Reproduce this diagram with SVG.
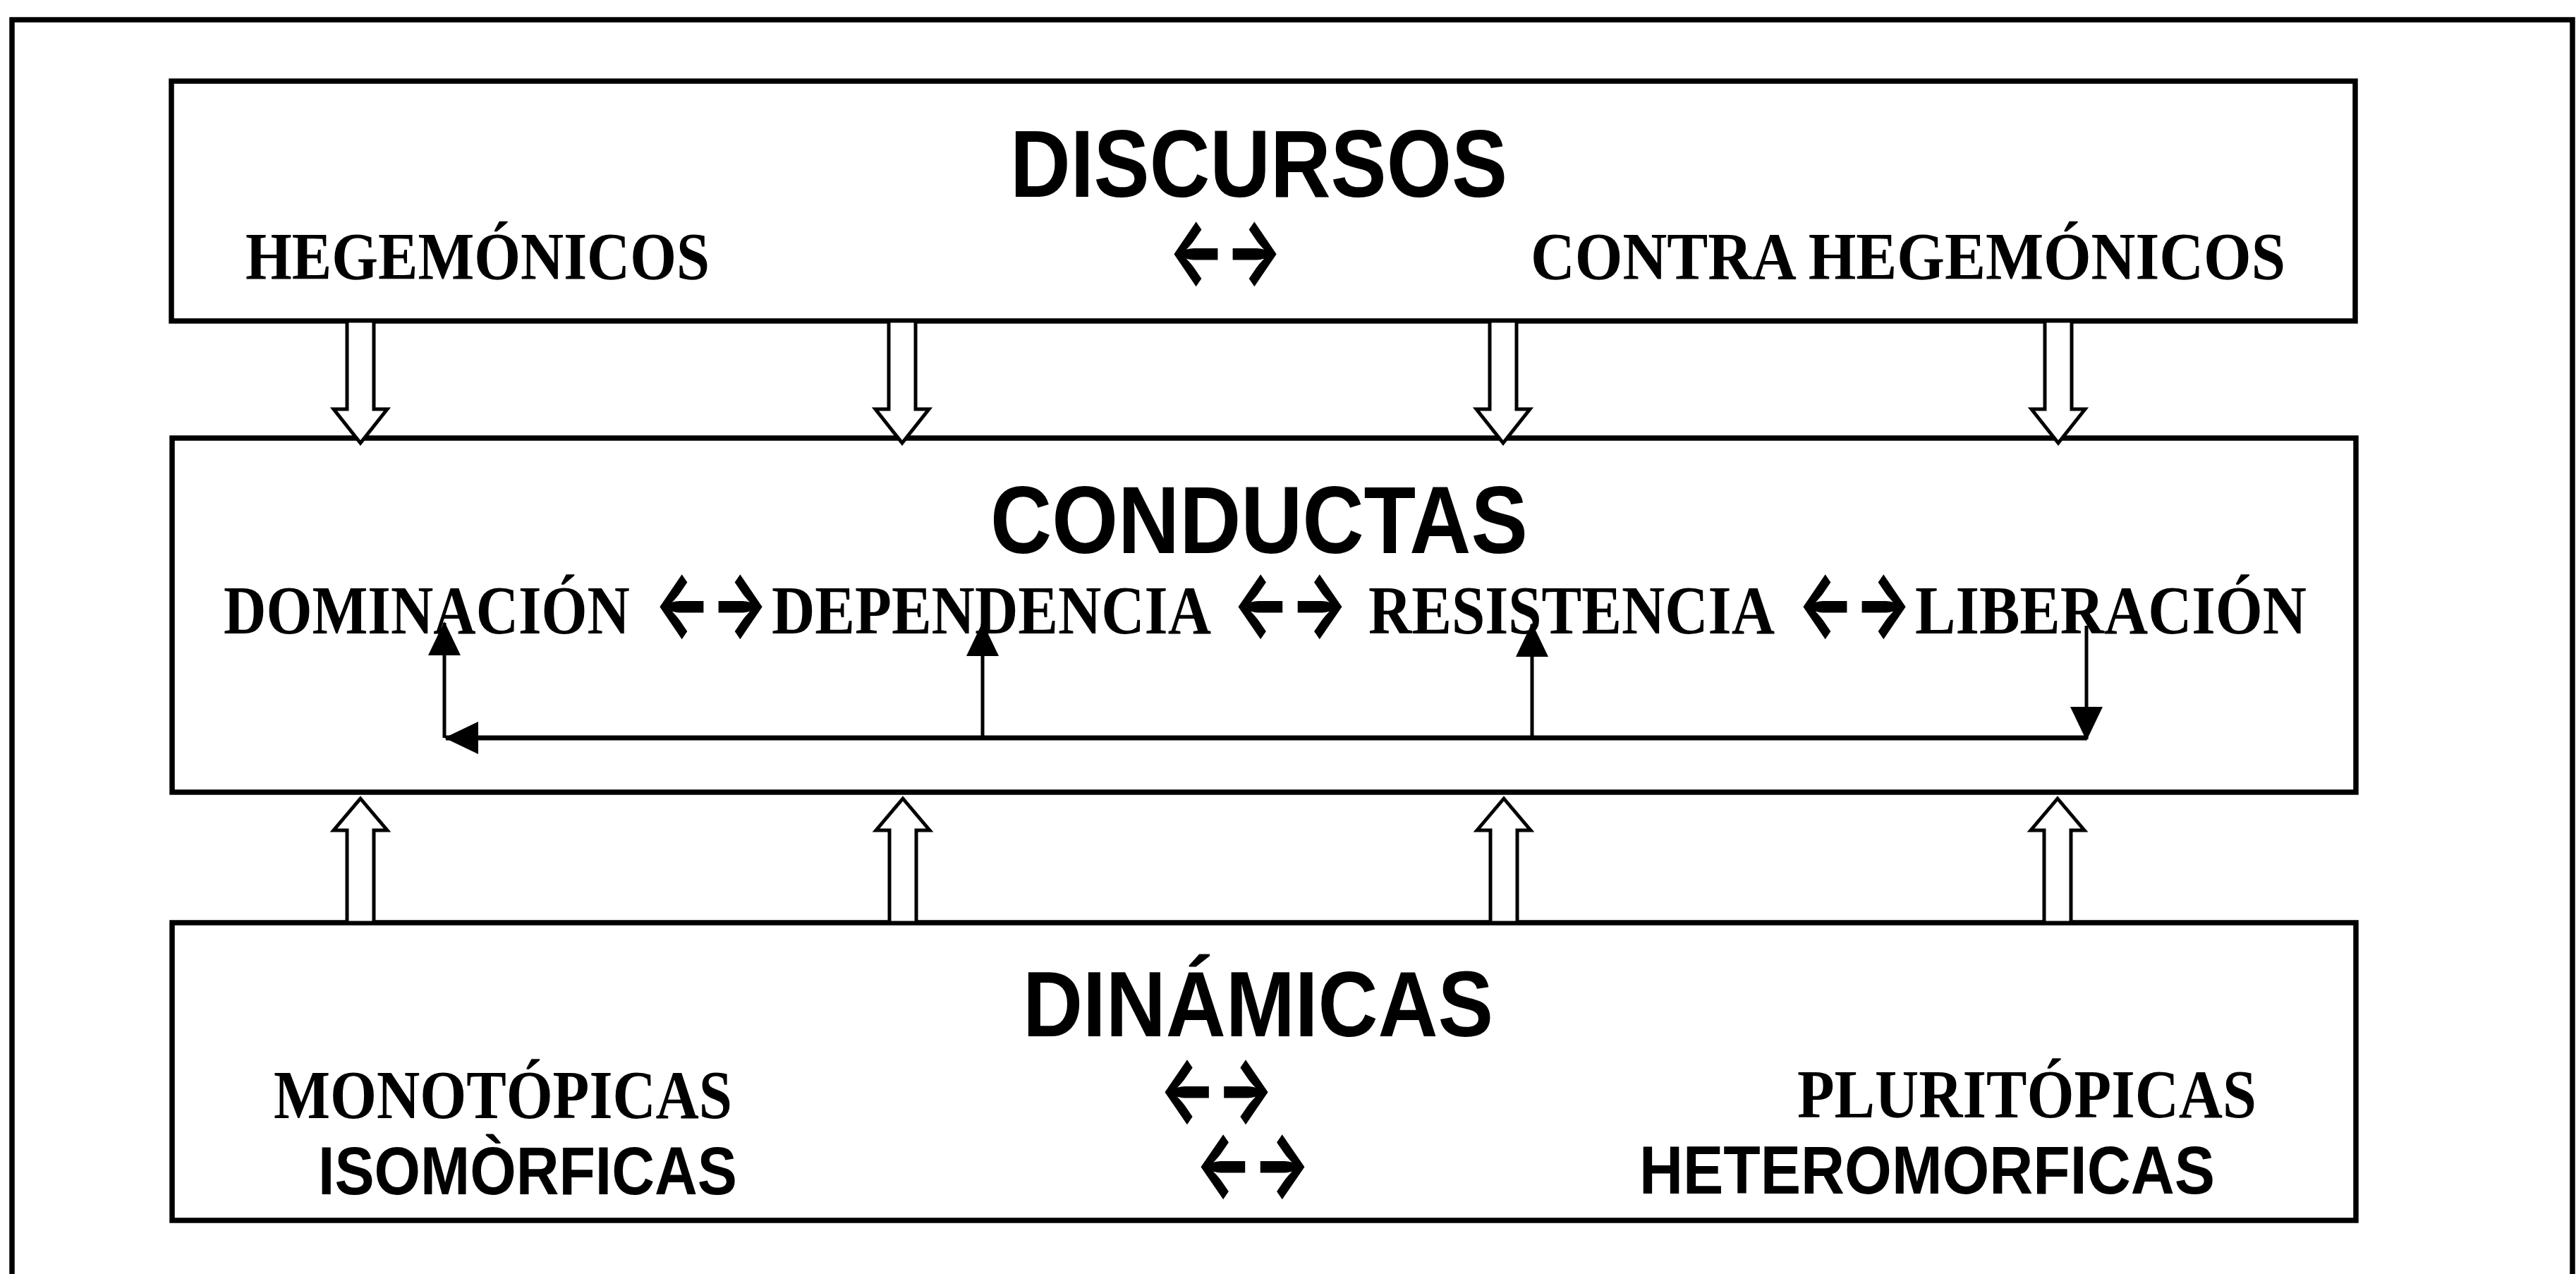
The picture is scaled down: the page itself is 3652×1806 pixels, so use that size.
<svg xmlns="http://www.w3.org/2000/svg" width="3652" height="1806" viewBox="0 0 3652 1806">
<style>
.box{fill:#fff;stroke:#000;stroke-width:7.5}
.outer{fill:none;stroke:#000;stroke-width:7.5}
.head{font-family:"Liberation Sans",Arial,sans-serif;font-weight:bold;font-size:119px;fill:#000}
.sub{font-family:"Liberation Serif","Times New Roman",serif;font-weight:bold;font-size:85px;fill:#000}
.subs{font-family:"Liberation Sans",Arial,sans-serif;font-weight:bold;font-size:85px;fill:#000}
.arr{font-family:Inter,"DejaVu Sans",sans-serif;font-weight:800;font-size:91px;fill:#000}
.hollow{fill:#fff;stroke:#000;stroke-width:5;stroke-linejoin:miter}
.fb{fill:none;stroke:#000;stroke-width:5}
.fbh{fill:none;stroke:#000;stroke-width:7}
</style>
<defs>
<path id="hdown" d="M-19,0 V125 H-38 L0,173 L38,125 H19 V0 Z"/>
<path id="hup" d="M-19,0 V-131 H-38 L0,-176 L38,-131 H19 V0 Z"/>
<marker id="ah" viewBox="0 0 48 46" refX="46" refY="23" markerWidth="48" markerHeight="46" markerUnits="userSpaceOnUse" orient="auto">
<path d="M0,0 L48,23 L0,46 Z" fill="#000"/>
</marker>
</defs>
<rect fill="#fff" x="0" y="0" width="3652" height="1806"/>
<path class="outer" d="M17,1820 V28 H3647 V1820"/>
<g id="discursos">
<rect class="box" x="243" y="115" width="3096" height="340"/>
<text class="head" transform="translate(1432,279) scale(1,1.14)" textLength="705" lengthAdjust="spacingAndGlyphs">DISCURSOS</text>
<text class="sub" transform="translate(348,396) scale(1,1.13)" textLength="658" lengthAdjust="spacingAndGlyphs">HEGEMÓNICOS</text>
<text class="arr" transform="translate(1656,400) scale(1,1.37)" textLength="162" lengthAdjust="spacingAndGlyphs">←→</text>
<text class="sub" transform="translate(2170,396) scale(1,1.13)" textLength="1070" lengthAdjust="spacingAndGlyphs">CONTRA HEGEMÓNICOS</text>
</g>
<g id="conductas">
<rect class="box" x="244" y="621" width="3096" height="502"/>
<text class="head" transform="translate(1404,784) scale(1,1.14)" textLength="762" lengthAdjust="spacingAndGlyphs">CONDUCTAS</text>
<text class="sub" transform="translate(317,898) scale(1,1.15)" textLength="576" lengthAdjust="spacingAndGlyphs">DOMINACIÓN</text>
<text class="arr" transform="translate(927,900) scale(1,1.37)" textLength="162" lengthAdjust="spacingAndGlyphs">←→</text>
<text class="sub" transform="translate(1094,898) scale(1,1.15)" textLength="623" lengthAdjust="spacingAndGlyphs">DEPENDENCIA</text>
<text class="arr" transform="translate(1747,900) scale(1,1.37)" textLength="164" lengthAdjust="spacingAndGlyphs">←→</text>
<text class="sub" transform="translate(1940,898) scale(1,1.15)" textLength="576" lengthAdjust="spacingAndGlyphs">RESISTENCIA</text>
<text class="arr" transform="translate(2548,900) scale(1,1.37)" textLength="162" lengthAdjust="spacingAndGlyphs">←→</text>
<text class="sub" transform="translate(2715,898) scale(1,1.15)" textLength="555" lengthAdjust="spacingAndGlyphs">LIBERACIÓN</text>
</g>
<g id="dinamicas">
<rect class="box" x="244" y="1308" width="3096" height="422"/>
<text class="head" transform="translate(1450,1469) scale(1,1.10)" textLength="667" lengthAdjust="spacingAndGlyphs">DINÁMICAS</text>
<text class="sub" transform="translate(388,1585) scale(1,1.14)" textLength="650" lengthAdjust="spacingAndGlyphs">MONOTÓPICAS</text>
<text class="sub" transform="translate(2548,1584) scale(1,1.14)" textLength="651" lengthAdjust="spacingAndGlyphs">PLURITÓPICAS</text>
<text class="arr" transform="scale(1,1.37)"><tspan x="1643" y="1159.12" textLength="163" lengthAdjust="spacingAndGlyphs">←→</tspan><tspan x="1694" y="1236.5" textLength="164" lengthAdjust="spacingAndGlyphs">←→</tspan></text>
<text class="subs" transform="translate(451,1693) scale(1,1.13)" textLength="594" lengthAdjust="spacingAndGlyphs">ISOMÒRFICAS</text>
<text class="subs" transform="translate(2324,1692) scale(1,1.13)" textLength="816" lengthAdjust="spacingAndGlyphs">HETEROMORFICAS</text>
</g>
<g id="connectors">
<use href="#hdown" class="hollow" transform="translate(511,455)"/>
<use href="#hdown" class="hollow" transform="translate(1279,455)"/>
<use href="#hdown" class="hollow" transform="translate(2131,455)"/>
<use href="#hdown" class="hollow" transform="translate(2918,455)"/>
<use href="#hup" class="hollow" transform="translate(511,1308)"/>
<use href="#hup" class="hollow" transform="translate(1280,1308)"/>
<use href="#hup" class="hollow" transform="translate(2132,1308)"/>
<use href="#hup" class="hollow" transform="translate(2917,1308)"/>
<line class="fbh" x1="2958" y1="1046" x2="632" y2="1046" marker-end="url(#ah)"/>
<line class="fb" x1="630" y1="1046" x2="630" y2="883" marker-end="url(#ah)"/>
<line class="fb" x1="1393" y1="1046" x2="1393" y2="884" marker-end="url(#ah)"/>
<line class="fb" x1="2172" y1="1046" x2="2172" y2="885" marker-end="url(#ah)"/>
<line class="fb" x1="2958" y1="887" x2="2958" y2="1048" marker-end="url(#ah)"/>
</g>
</svg>
